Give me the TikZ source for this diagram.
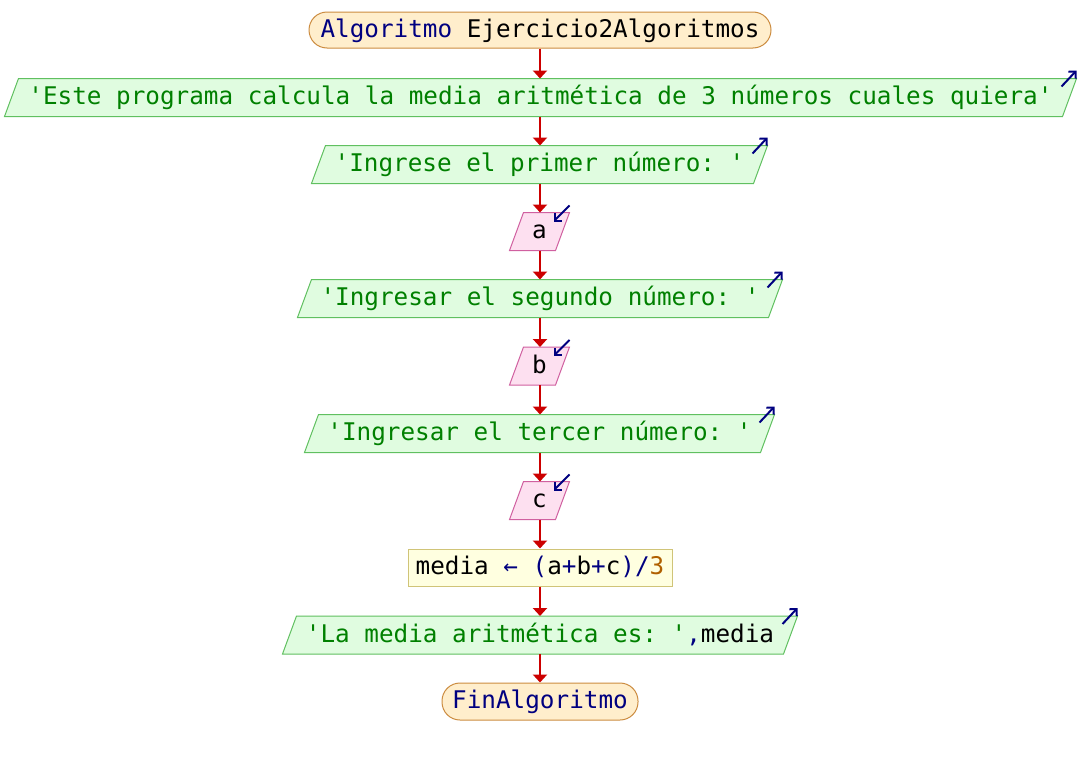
\documentclass[tikz,border=0pt]{standalone}
\usepackage{fontspec}
\setmonofont{DejaVu Sans Mono}
\usetikzlibrary{arrows.meta,calc,backgrounds}

\definecolor{kw}{RGB}{0,0,128}
\definecolor{str}{RGB}{0,128,0}
\definecolor{num}{RGB}{176,96,0}
\definecolor{flowred}{RGB}{204,0,0}
\definecolor{termfill}{RGB}{255,238,204}
\definecolor{termdraw}{RGB}{204,140,64}
\definecolor{outfill}{RGB}{224,252,224}
\definecolor{outdraw}{RGB}{96,192,96}
\definecolor{infill}{RGB}{253,224,240}
\definecolor{indraw}{RGB}{208,96,160}
\definecolor{asgfill}{RGB}{255,255,224}
\definecolor{asgdraw}{RGB}{208,196,120}

\tikzset{
  every node/.style={font=\ttfamily\frenchspacing\fontsize{24.3}{28}\selectfont,
    inner sep=0pt, text height=19pt, text depth=5pt},
  blk/.style={minimum height=37pt, line width=1pt},
  term/.style={blk, draw=termdraw, fill=termfill, rounded corners=18pt, text=kw},
  outbox/.style={blk, text=str},
  inbox/.style={blk, text=black},
  asg/.style={blk, draw=asgdraw, fill=asgfill, text=black},
  outshape/.style={draw=outdraw, fill=outfill, line width=1pt},
  inshape/.style={draw=indraw, fill=infill, line width=1pt},
  flow/.style={draw=flowred, line width=2.2pt, -{Triangle[width=14pt,length=8pt]}},
  icon/.style={draw=kw, line width=2pt, -{Straight Barb[length=5pt,width=10pt]}},
}

% slanted data box behind a node
\newcommand\slantpath[2]{%
  \path[#2] ($(#1.south west)+(-7,0)$) -- ($(#1.north west)+(7,0)$)
    -- ($(#1.north east)+(7,0)$) -- ($(#1.south east)+(-7,0)$) -- cycle;}
% "write" marker at the top right corner of an output box
\newcommand\outicon[1]{\draw[icon] ($(#1.north east)+(-8,8)$) -- ($(#1.north east)+(7,-8)$);}
% "read" marker at the top right corner of an input box
\newcommand\inicon[1]{\draw[icon] ($(#1.north east)+(7,-7)$) -- ($(#1.north east)+(-9,9)$);}

\begin{document}
\begin{tikzpicture}[x=1pt,y=-1pt]
  \useasboundingbox (0,0) rectangle (1079,763);

  \node[term, minimum width=462pt, minimum height=36pt] (s) at (540,30)
    {Algoritmo \textcolor{black}{Ejercicio2Algoritmos}};
  \node[outbox, minimum width=1057pt] (o1) at (540.5,97.5)
    {'Este programa calcula la media aritmética de 3 números cuales quiera'};
  \node[outbox, minimum width=441pt] (o2) at (539.5,164.5)
    {'Ingrese el primer número: '};
  \node[inbox, minimum width=45pt] (a) at (539.5,231.5) {a};
  \node[outbox, minimum width=470pt] (o3) at (540,298.5)
    {'Ingresar el segundo número: '};
  \node[inbox, minimum width=45pt] (b) at (539.5,366) {b};
  \node[outbox, minimum width=455pt] (o4) at (539.5,433.5)
    {'Ingresar el tercer número: '};
  \node[inbox, minimum width=45pt] (c) at (539.5,500.5) {c};
  \node[asg, minimum width=264pt] (m) at (540,567.5)
    {media \textcolor{kw}{←\ (}a\textcolor{kw}{+}b\textcolor{kw}{+}c\textcolor{kw}{)/}\textcolor{num}{3}};
  \node[outbox, minimum width=500pt] (o5) at (540,635)
    {'La media aritmética es: '\textcolor{kw}{,}\textcolor{black}{media}};
  \node[term, minimum width=196pt] (e) at (540,701.5) {FinAlgoritmo};

  \begin{pgfonlayer}{background}
    \fill[white] (0,0) rectangle (1079,763);
    \slantpath{o1}{outshape}
    \slantpath{o2}{outshape}
    \slantpath{o3}{outshape}
    \slantpath{o4}{outshape}
    \slantpath{o5}{outshape}
    \slantpath{a}{inshape}
    \slantpath{b}{inshape}
    \slantpath{c}{inshape}
  \end{pgfonlayer}

  \outicon{o1}
  \outicon{o2}
  \outicon{o3}
  \outicon{o4}
  \outicon{o5}
  \inicon{a}
  \inicon{b}
  \inicon{c}

  \draw[flow] (s.south) -- (s.south |- o1.north);
  \draw[flow] (s.south |- o1.south) -- (s.south |- o2.north);
  \draw[flow] (s.south |- o2.south) -- (s.south |- a.north);
  \draw[flow] (s.south |- a.south) -- (s.south |- o3.north);
  \draw[flow] (s.south |- o3.south) -- (s.south |- b.north);
  \draw[flow] (s.south |- b.south) -- (s.south |- o4.north);
  \draw[flow] (s.south |- o4.south) -- (s.south |- c.north);
  \draw[flow] (s.south |- c.south) -- (m.north);
  \draw[flow] (m.south) -- (m.south |- o5.north);
  \draw[flow] (m.south |- o5.south) -- (e.north);
\end{tikzpicture}
\end{document}
